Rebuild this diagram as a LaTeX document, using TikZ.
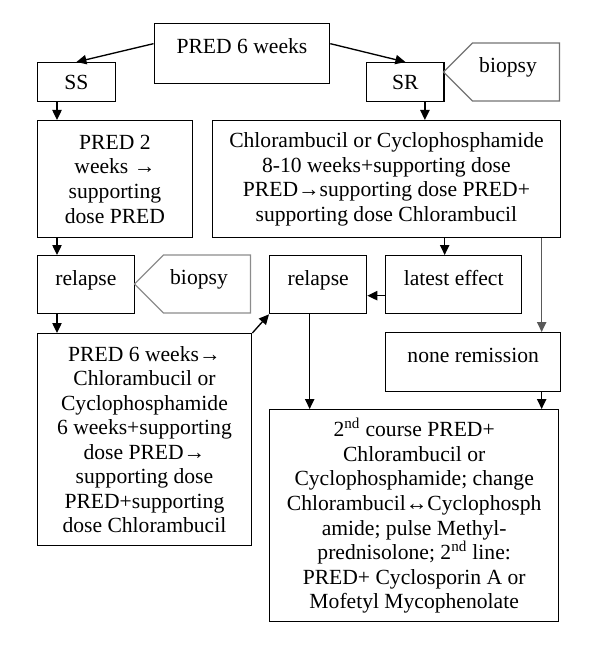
\documentclass[tikz,border=0pt]{standalone}
\usepackage{fontspec}
\setmainfont{Liberation Serif}
\usetikzlibrary{arrows.meta,shapes.symbols,calc}
\begin{document}
\begin{tikzpicture}[x=0.75pt,y=-0.75pt,
  box/.style={draw, line width=1pt, inner sep=0pt, align=center, anchor=north west,
    font=\fontsize{16.2pt}{18.4pt}\selectfont},
  upper/.style={text height=11pt, text depth=10.5pt},
  tag/.style={draw=black!55, line width=1pt, signal, signal to=west, signal from=nowhere,
    signal pointer angle=90, inner sep=0pt, align=center,
    font=\fontsize{16.2pt}{18.4pt}\selectfont, text height=11pt, text depth=10.5pt},
  arr/.style={-{Triangle[length=7.5pt,width=7pt]}, line width=1pt}]
\useasboundingbox (0,0) rectangle (600,645);

\node[box, upper, minimum width=131.6pt, minimum height=45pt] (pred) at (153.5,23) {PRED 6 weeks};
\node[box, minimum width=58.9pt, minimum height=29.25pt] (ss) at (36.5,62) {SS};
\node[box, minimum width=58.1pt, minimum height=29.25pt] (sr) at (366,62) {SR};
\node[tag, minimum width=87pt, minimum height=43.5pt] (bio1) at (516,72) {biopsy\hspace*{12pt}};
\node[box, minimum width=116.6pt, minimum height=87.75pt] (pred2) at (36.5,120)
  {PRED 2\\weeks →\\supporting\\dose PRED};
\node[box, minimum width=261.4pt, minimum height=87.75pt] (chloro) at (211.5,120)
  {Chlorambucil or Cyclophosphamide\\8-10 weeks+supporting dose\\PRED→supporting dose PRED+\\supporting dose Chlorambucil};
\node[box, upper, minimum width=73.1pt, minimum height=43.5pt] (rel1) at (36.5,255) {relapse};
\node[tag, draw=black!45, minimum width=87pt, minimum height=43.5pt] (bio2) at (207,284) {biopsy\hspace*{12pt}};
\node[box, upper, minimum width=72.75pt, minimum height=43.5pt] (rel2) at (269,255) {relapse};
\node[box, upper, minimum width=102pt, minimum height=43.5pt] (latest) at (385,255) {latest effect};
\node[box, upper, minimum width=131.25pt, minimum height=44.25pt] (none) at (385,332) {none remission};
\node[box, minimum width=160.9pt, minimum height=159pt] (bigleft) at (36.5,333)
  {PRED 6 weeks→\\Chlorambucil or\\Cyclophosphamide\\6 weeks+supporting\\dose PRED→\\supporting dose\\PRED+supporting\\dose Chlorambucil};
\node[box, minimum width=216.75pt, minimum height=159pt] (second) at (269,409)
  {2\textsuperscript{nd} course PRED+\\Chlorambucil or\\Cyclophosphamide; change\\Chlorambucil↔Cyclophosph\\amide; pulse Methyl-\\prednisolone; 2\textsuperscript{nd} line:\\PRED+ Cyclosporin A or\\Mofetyl Mycophenolate};

\coordinate (c3) at ($(ss.south west)+(20.5,0)$);
\coordinate (c4) at ($(sr.south)+(19.5,0)$);
\coordinate (c6) at ($(latest.north)+(-9,0)$);
\coordinate (c7) at ($(none.north)+(68.5,0)$);
\coordinate (c11) at ($(rel2.south)+(-8.5,0)$);

\draw[arr] ([yshift=7.5pt]pred.west) -- (ss.north);
\draw[arr] ([yshift=7.5pt]pred.east) -- (sr.north);
\draw[arr] (c3) -- (pred2.north -| c3);
\draw[arr] (c4) -- (chloro.north -| c4);
\draw[arr] (pred2.south -| c3) -- (rel1.north -| c3);
\draw[arr] (chloro.south -| c6) -- (c6);
\draw[arr, draw=black!65, fill=black!65] (chloro.south -| c7) -- (c7);
\draw[arr] ([yshift=-8.25pt]latest.west) -- ([yshift=-8.25pt]rel2.east);
\draw[arr] (rel1.south -| c3) -- (bigleft.north -| c3);
\draw[arr] (bigleft.north east) -- (rel2.south west);
\draw[arr] (c11) -- (second.north -| c11);
\draw[arr] (none.south -| c7) -- (second.north -| c7);
\end{tikzpicture}
\end{document}
